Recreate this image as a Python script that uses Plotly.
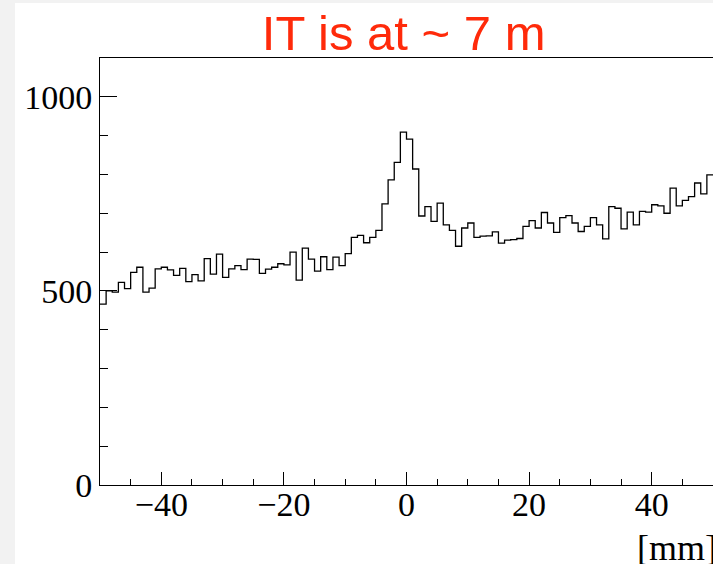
import numpy as np
import plotly.graph_objects as go

# Histogram: 100 bins of 1 mm from -50 to 50
bin_low_edge = -50.0
bin_width = 1.0
counts = [
    466, 500, 497, 522, 506, 548, 561, 497, 507, 557,
    561, 554, 540, 558, 524, 542, 526, 583, 543, 595,
    535, 557, 565, 555, 582, 581, 545, 556, 561, 570,
    567, 600, 528, 610, 582, 551, 588, 555, 587, 565,
    596, 638, 643, 624, 638, 656, 724, 786, 831, 909,
    891, 814, 693, 717, 679, 726, 670, 656, 615, 662,
    675, 638, 641, 642, 652, 623, 631, 632, 635, 666,
    681, 662, 702, 675, 651, 689, 694, 675, 653, 666,
    689, 670, 634, 717, 713, 660, 703, 670, 705, 703,
    722, 719, 700, 765, 719, 733, 743, 778, 750, 799,
]
x_tick_vals = [-40, -20, 0, 20, 40]
y_tick_vals = [0, 500, 1000]
title_text = "IT is at ~ 7 m"
x_title = "[mm]"

n = len(counts)
edges = bin_low_edge + bin_width * np.arange(n + 1)
xs = list(edges)
ys = list(counts) + [counts[-1]]

W, H = 713, 564
ml, mr, mt, mb = 100, 0, 58, 79

fig = go.Figure()
fig.add_trace(go.Scatter(
    x=xs, y=ys, mode="lines", line_shape="hv",
    line=dict(color="black", width=1.3),
    hoverinfo="skip", showlegend=False,
))

tickfont = dict(family="Liberation Serif, Times New Roman, serif", size=34, color="black")
titlefont_x = dict(family="Liberation Serif, Times New Roman, serif", size=36, color="black")

fig.update_layout(
    width=W, height=H,
    margin=dict(l=ml, r=mr, t=mt, b=mb, pad=0),
    paper_bgcolor="#f2f2f2",
    plot_bgcolor="white",
    showlegend=False,
    title=dict(
        text=title_text, x=(ml + (W - ml - mr) / 2) / W - 0.004, xanchor="center",
        y=1 - 33 / H, yanchor="middle",
        font=dict(family="Liberation Sans, Arial, sans-serif", size=49, color="#ff2a0a"),
    ),
    xaxis=dict(
        range=[-50, 50], tickvals=x_tick_vals, ticktext=["\u221240", "\u221220", "0", "20", "40"],
        ticks="inside", ticklen=13, tickwidth=1, tickcolor="black",
        minor=dict(dtick=5, tick0=0, ticks="inside", ticklen=6, tickwidth=1, tickcolor="black"),
        showline=True, linecolor="black", linewidth=1, mirror=True,
        showgrid=False, zeroline=False, tickfont=tickfont,
        ticklabelstandoff=-11,
    ),
    yaxis=dict(
        range=[0, 1100], tickvals=y_tick_vals,
        ticks="inside", ticklen=17, tickwidth=1, tickcolor="black",
        minor=dict(dtick=100, tick0=0, ticks="inside", ticklen=8, tickwidth=1, tickcolor="black"),
        showline=True, linecolor="black", linewidth=1, mirror=True,
        showgrid=False, zeroline=False, tickfont=tickfont,
        ticklabelstandoff=0,
    ),
    shapes=[dict(
        type="rect", xref="paper", yref="paper", layer="below",
        x0=-(ml - 15) / (W - ml - mr), x1=1.1,
        y0=-mb / (H - mt - mb) - 0.1, y1=1 + (mt - 3) / (H - mt - mb),
        fillcolor="white", line=dict(width=0),
    )],
    annotations=[dict(
        text=x_title, xref="paper", yref="paper",
        x=1.009, xanchor="right", y=-(548 - (H - mb)) / (H - mt - mb), yanchor="middle",
        showarrow=False, font=titlefont_x,
    )],
)

fig.write_html("out.html")
